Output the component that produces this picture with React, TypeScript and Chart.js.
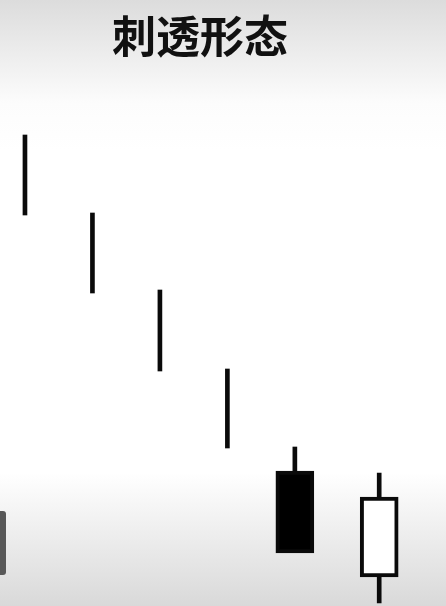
import React, { useEffect, useRef } from "react";
import { Chart, registerables } from "chart.js";

Chart.register(...registerables);

const TITLE = "刺透形态";
const sessions = [1, 2, 3, 4, 5, 6.25];
const highs = [94.2, 78.6, 63.2, 47.4, 31.8, 26.6];
const lows = [78.2, 62.6, 47.0, 31.6, 11.0, 0.6];
const opens: (number | null)[] = [null, null, null, null, 27.0, 5.8];
const closes: (number | null)[] = [null, null, null, null, 10.6, 21.8];

const W = 446;
const H = 606;

const backgroundPlugin = {
  id: "pageBackground",
  beforeDraw(chart: any) {
    const { ctx, width, height } = chart;
    ctx.save();
    const g = ctx.createLinearGradient(0, 0, 0, height);
    g.addColorStop(0, "#dcdcdc");
    g.addColorStop(0.17, "#fcfcfc");
    g.addColorStop(0.25, "#ffffff");
    g.addColorStop(0.78, "#ffffff");
    g.addColorStop(1, "#d9d9d9");
    ctx.fillStyle = g;
    ctx.fillRect(0, 0, width, height);
    // side tab decoration
    ctx.fillStyle = "#585858";
    ctx.beginPath();
    (ctx as any).roundRect(-4, 511, 10, 64, 3);
    ctx.fill();
    ctx.restore();
  },
};

const titlePlugin = {
  id: "pageTitle",
  afterDraw(chart: any) {
    const { ctx } = chart;
    ctx.save();
    ctx.fillStyle = "#111111";
    ctx.font = 'bold 44px "Noto Sans CJK SC", "Noto Sans", sans-serif';
    ctx.textAlign = "center";
    ctx.textBaseline = "middle";
    ctx.fillText(TITLE, 200, 36);
    ctx.restore();
  },
};

export default function App() {
  const ref = useRef<HTMLCanvasElement | null>(null);

  useEffect(() => {
    if (!ref.current) return;
    const wickData = sessions.map((x, i) => ({ x, y: [lows[i], highs[i]] }));
    const bodyData: any[] = [];
    const bodyFill: string[] = [];
    sessions.forEach((x, i) => {
      const o = opens[i];
      const c = closes[i];
      if (o == null || c == null) return;
      bodyData.push({ x, y: [o, c] });
      bodyFill.push(c < o ? "#000000" : "#ffffff");
    });

    const chart = new Chart(ref.current, {
      type: "bar",
      data: {
        datasets: [
          {
            label: "wick",
            data: wickData as any,
            backgroundColor: "#0a0a0a",
            borderWidth: 0,
            barThickness: 4,
            grouped: false,
            order: 2,
          } as any,
          {
            label: "body",
            data: bodyData,
            backgroundColor: bodyFill,
            borderColor: "#0a0a0a",
            borderWidth: 4,
            borderSkipped: false,
            barThickness: 38,
            grouped: false,
            order: 1,
          } as any,
        ],
      },
      options: {
        responsive: false,
        animation: false,
        layout: { padding: { top: 106, left: 0, right: 0, bottom: 0 } },
        scales: {
          x: { type: "linear", min: 0.63, max: 7.24, offset: false, display: false },
          y: { type: "linear", min: 0, max: 100, display: false },
        },
        plugins: {
          legend: { display: false },
          tooltip: { enabled: false },
          title: { display: false },
        },
      },
      plugins: [backgroundPlugin, titlePlugin],
    });
    return () => chart.destroy();
  }, []);

  return (
    <div style={{ position: "fixed", left: 0, top: 0, width: W, height: H }}>
      <canvas ref={ref} width={W} height={H} style={{ display: "block" }} />
    </div>
  );
}
